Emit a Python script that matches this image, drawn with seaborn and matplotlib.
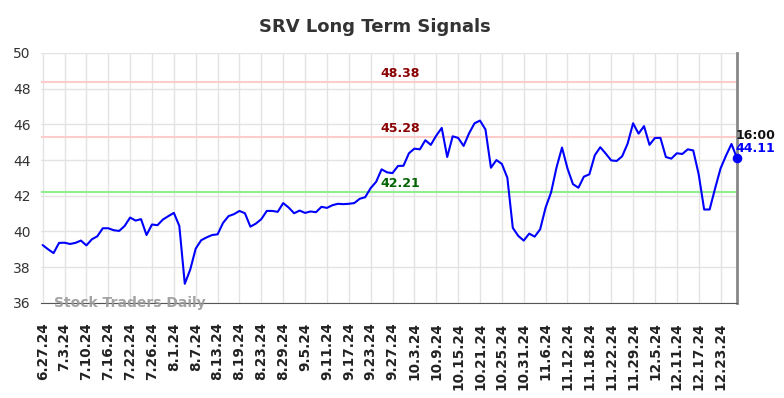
import numpy as np
import pandas as pd
import seaborn as sns
import matplotlib
matplotlib.use("Agg")
import matplotlib.pyplot as plt
from matplotlib.transforms import blended_transform_factory

# closing prices, one per trading day from 6.27.24 to 12.27.24
prices = [
    39.24, 39.00, 38.79, 39.36, 39.37, 39.30, 39.36, 39.49, 39.22, 39.56,
    39.73, 40.18, 40.18, 40.07, 40.03, 40.31, 40.78, 40.61, 40.69, 39.80,
    40.39, 40.35, 40.67, 40.86, 41.04, 40.31, 37.07, 37.87, 39.04, 39.51,
    39.67, 39.80, 39.84, 40.48, 40.86, 40.97, 41.15, 41.02, 40.27, 40.44,
    40.69, 41.15, 41.15, 41.10, 41.59, 41.34, 41.02, 41.17, 41.04, 41.12,
    41.08, 41.38, 41.32, 41.47, 41.55, 41.53, 41.55, 41.59, 41.83, 41.92,
    42.43, 42.78, 43.48, 43.31, 43.27, 43.67, 43.68, 44.38, 44.64, 44.60,
    45.11, 44.85, 45.37, 45.80, 44.17, 45.33, 45.24, 44.79, 45.50, 46.06,
    46.21, 45.71, 43.57, 44.00, 43.78, 43.01, 40.20, 39.75, 39.49, 39.88,
    39.71, 40.12, 41.34, 42.19, 43.59, 44.70, 43.53, 42.65, 42.45, 43.07,
    43.20, 44.27, 44.72, 44.36, 43.98, 43.95, 44.21, 44.92, 46.06, 45.48,
    45.90, 44.85, 45.24, 45.24, 44.17, 44.08, 44.38, 44.34, 44.60, 44.54,
    43.20, 41.23, 41.23, 42.41, 43.53, 44.25, 44.90, 44.11,
]

# every 4th trading day is labelled
tick_labels = [
    "6.27.24", "7.3.24", "7.10.24", "7.16.24", "7.22.24", "7.26.24", "8.1.24",
    "8.7.24", "8.13.24", "8.19.24", "8.23.24", "8.29.24", "9.5.24", "9.11.24",
    "9.17.24", "9.23.24", "9.27.24", "10.3.24", "10.9.24", "10.15.24",
    "10.21.24", "10.25.24", "10.31.24", "11.6.24", "11.12.24", "11.18.24",
    "11.22.24", "11.29.24", "12.5.24", "12.11.24", "12.17.24", "12.23.24",
]

resistance = [48.38, 45.28]
support = [42.21]
last_time = "16:00"

df = pd.DataFrame({"day": np.arange(len(prices)), "price": prices})

sns.set_style("white")
fig = plt.figure(figsize=(7.84, 3.98), dpi=100)
ax = fig.add_axes([0.0523, 0.239, 0.8877, 0.628])

ax.set_ylim(36, 50)
ax.set_xlim(-0.3, len(prices) - 1)
ax.set_yticks(range(36, 51, 2))
ax.set_xticks(np.arange(0, len(tick_labels) * 4, 4))
ax.set_xticklabels(tick_labels, rotation=90, fontweight="bold", fontsize=9.8,
                   color="#222222")
ax.tick_params(axis="y", labelsize=10, labelcolor="#333333", length=4,
               color="#dddddd")
ax.tick_params(axis="x", length=0, pad=14)
ax.grid(True, color="#e3e3e3", linewidth=1)
ax.set_axisbelow(True)

for s in ["left", "top"]:
    ax.spines[s].set_visible(False)
ax.spines["bottom"].set_color("#555555")
ax.spines["right"].set_color("#888888")
ax.spines["right"].set_linewidth(2)

# level labels sit a bit right of the middle of the plot
trans = blended_transform_factory(ax.transAxes, ax.transData)
for lvl in resistance:
    ax.axhline(lvl, color="#ffcccc", linewidth=1.5, zorder=1)
    ax.text(0.516, lvl + 0.12, f"{lvl:.2f}", color="#8b0000", fontweight="bold",
            fontsize=9, ha="center", va="bottom", transform=trans)
for lvl in support:
    ax.axhline(lvl, color="#90ee90", linewidth=1.5, zorder=1)
    ax.text(0.516, lvl + 0.12, f"{lvl:.2f}", color="#006400", fontweight="bold",
            fontsize=9, ha="center", va="bottom", transform=trans)

sns.lineplot(data=df, x="day", y="price", color="#0000ff", linewidth=1.5,
             ax=ax, zorder=3)
ax.set_xlabel("")
ax.set_ylabel("")

last_x = df["day"].iloc[-1]
last_y = df["price"].iloc[-1]
ax.scatter([last_x], [last_y], color="#0000ff", s=35, zorder=4, clip_on=False)
ax.text(last_x - 0.2, last_y + 1.25, last_time, fontweight="bold", fontsize=9,
        color="#111111", ha="left", va="center")
ax.text(last_x - 0.2, last_y + 0.55, f"{last_y:.2f}", fontweight="bold",
        fontsize=9, color="#0000ff", ha="left", va="center")

ax.text(2, 36.0, "Stock Traders Daily", fontsize=10, fontweight="bold",
        color="#999999", alpha=0.9, ha="left", va="center")

fig.suptitle("SRV Long Term Signals", fontsize=13, fontweight="bold",
             color="#333333", x=0.478, y=0.955)

fig.savefig("out.png", dpi=100)
